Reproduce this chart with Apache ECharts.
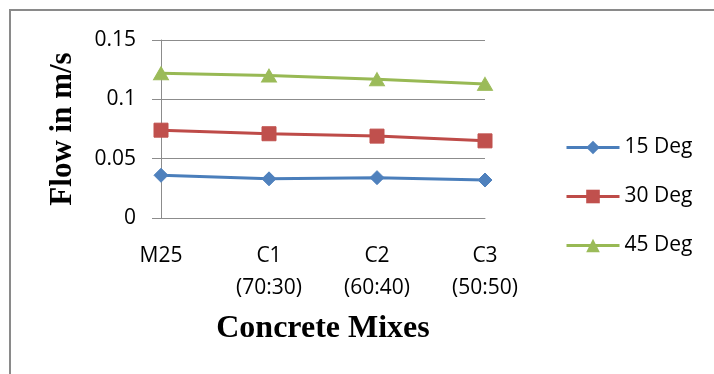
<!DOCTYPE html>
<html>
<head>
<meta charset="utf-8">
<script src="https://cdn.jsdelivr.net/npm/echarts@6/dist/echarts.min.js"></script>
<style>
  html, body { margin: 0; padding: 0; background: #ffffff; }
  #chart { width: 714px; height: 374px; }
</style>
</head>
<body>
<div id="chart"></div>
<script>
// Concrete mixes along the x axis
const categories = ['M25', 'C1\n(70:30)', 'C2\n(60:40)', 'C3\n(50:50)'];

// Flow (m/s) at each inclination
const flow15 = [0.036, 0.033, 0.034, 0.032];
const flow30 = [0.074, 0.071, 0.069, 0.065];
const flow45 = [0.122, 0.120, 0.117, 0.113];

const seriesNames = ['15 Deg', '30 Deg', '45 Deg'];

const labelFont = '"Open Sans", "Noto Sans", sans-serif';
const titleFont = '"Liberation Serif", "Times New Roman", serif';
const gridGray = '#8c8c8c';

const chart = echarts.init(document.getElementById('chart'), null, { renderer: 'canvas' });

function lineSeries(name, data, symbol, size, lineColor, fillColor) {
  return {
    name: name,
    type: 'line',
    data: data,
    symbol: symbol,
    symbolSize: size,
    showAllSymbol: true,
    lineStyle: { color: lineColor, width: 3 },
    itemStyle: { color: fillColor, borderColor: fillColor },
    emphasis: { disabled: true },
    animation: false
  };
}

chart.setOption({
  animation: false,
  backgroundColor: '#ffffff',
  graphic: [{
    type: 'rect',
    shape: { x: 10, y: 10, width: 720, height: 380 },
    style: { fill: 'none', stroke: '#8a8a8a', lineWidth: 2 },
    silent: true,
    z: -1
  }],
  grid: { left: 161, right: 229, top: 40, bottom: 156, containLabel: false },
  legend: {
    orient: 'vertical',
    left: 560,
    top: 132,
    itemWidth: 53,
    itemHeight: 17,
    itemGap: 28,
    data: seriesNames,
    lineStyle: { width: 3 },
    textStyle: { fontFamily: labelFont, fontSize: 21, color: '#000000', lineHeight: 20 }
  },
  xAxis: {
    type: 'category',
    data: categories,
    boundaryGap: false,
    name: 'Concrete Mixes',
    nameLocation: 'middle',
    nameGap: 93,
    nameTextStyle: { fontFamily: titleFont, fontWeight: 'bold', fontSize: 32, color: '#000000', lineHeight: 36 },
    axisLine: { show: true, lineStyle: { color: gridGray, width: 1 } },
    axisTick: { show: false },
    splitLine: { show: false },
    axisLabel: {
      interval: 0,
      margin: 22,
      fontFamily: labelFont,
      fontSize: 21,
      lineHeight: 32,
      color: '#000000',
      align: 'center'
    }
  },
  yAxis: {
    type: 'value',
    min: 0,
    max: 0.15,
    interval: 0.05,
    name: 'Flow in m/s',
    nameLocation: 'middle',
    nameGap: 80,
    nameRotate: 90,
    nameTextStyle: { fontFamily: titleFont, fontWeight: 'bold', fontSize: 31, color: '#000000', lineHeight: 36 },
    axisLine: { show: true, lineStyle: { color: gridGray, width: 1 } },
    axisTick: { show: true, inside: false, length: 9, lineStyle: { color: gridGray, width: 1 } },
    splitLine: { show: true, lineStyle: { color: gridGray, width: 1 } },
    axisLabel: { margin: 25, fontFamily: labelFont, fontSize: 21, color: '#000000' }
  },
  series: [
    lineSeries(seriesNames[0], flow15, 'diamond', 14, '#4a7ebb', '#4f81bd'),
    lineSeries(seriesNames[1], flow30, 'rect', 14, '#be4b48', '#c0504d'),
    lineSeries(seriesNames[2], flow45, 'triangle', [15, 13], '#98b954', '#9bbb59')
  ]
});
</script>
</body>
</html>
